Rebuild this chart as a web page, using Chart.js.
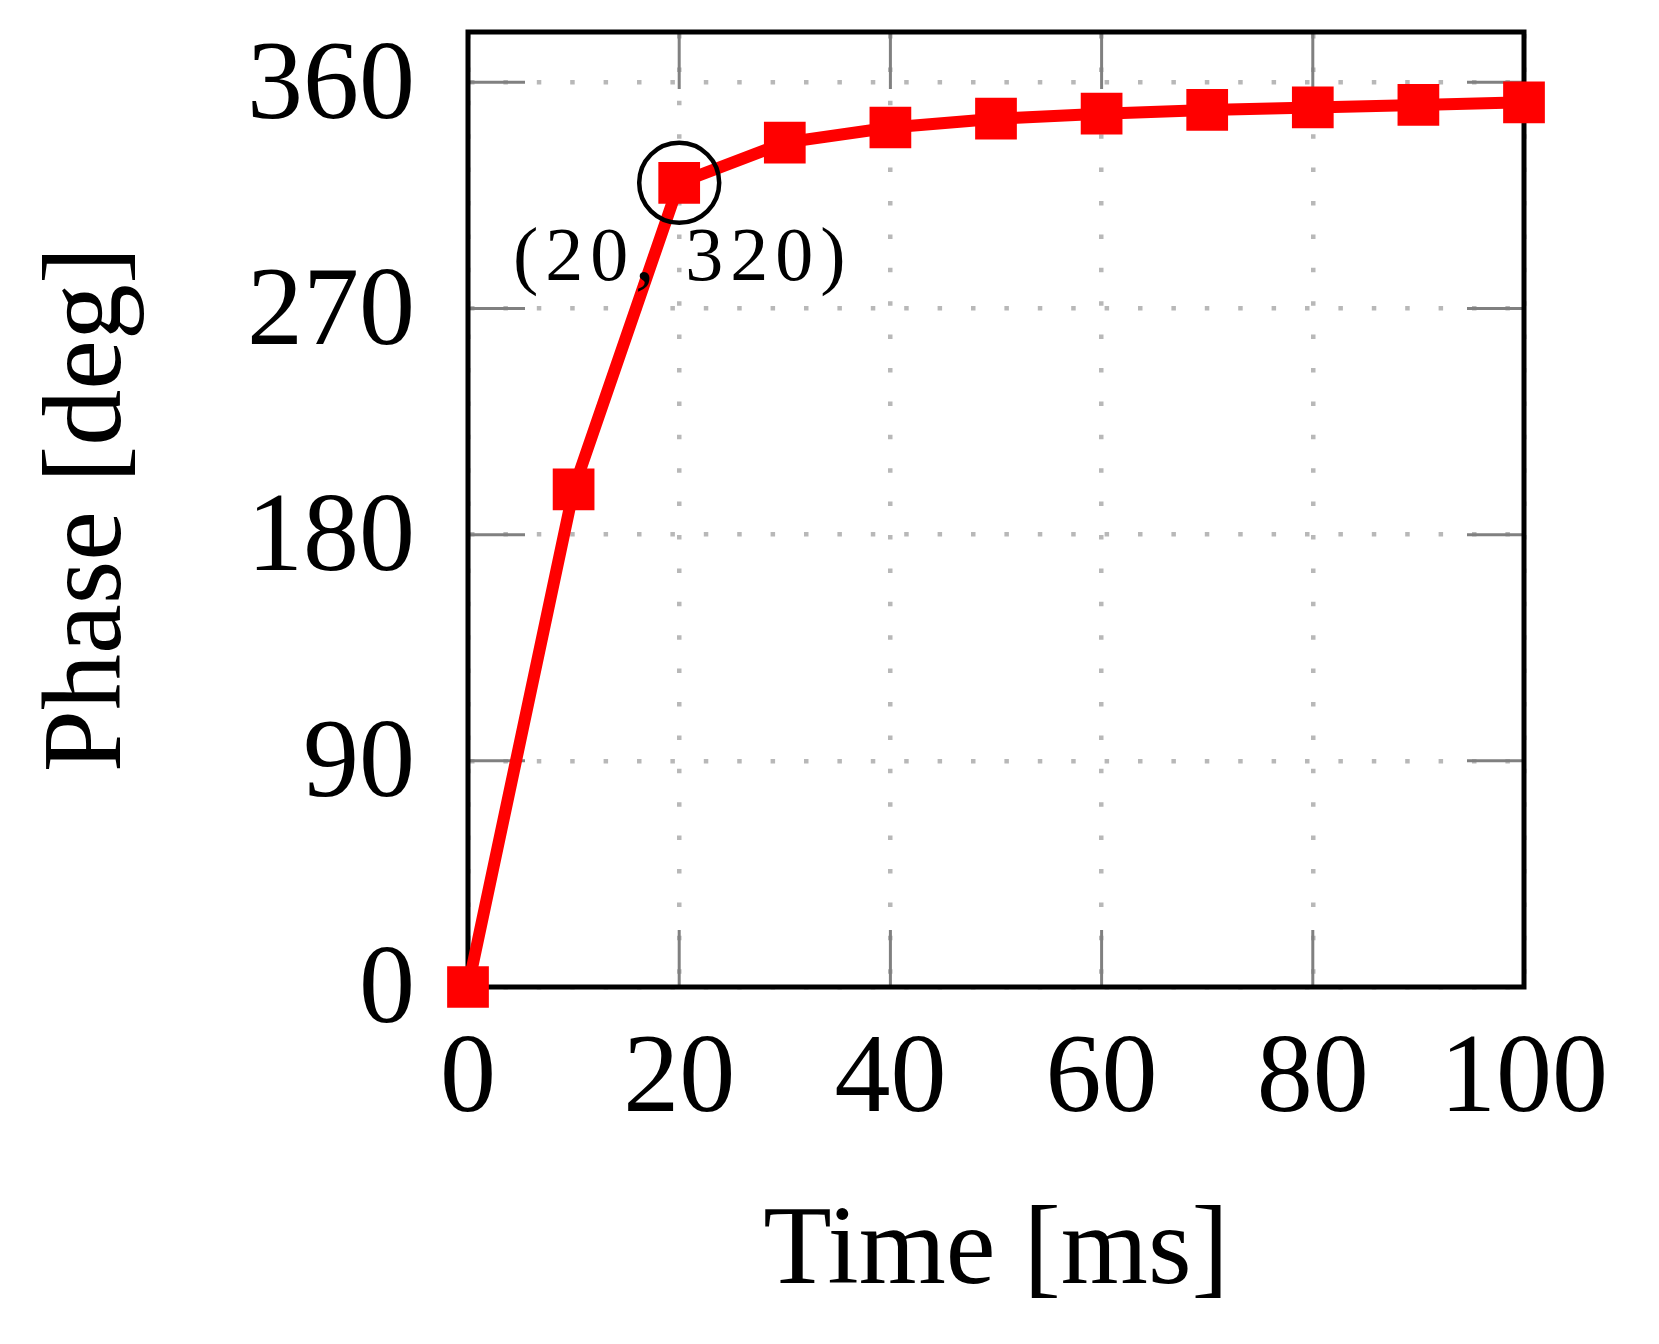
<!DOCTYPE html>
<html>
<head>
<meta charset="utf-8">
<title>Phase vs Time</title>
<script src="https://cdn.jsdelivr.net/npm/chart.js@4/dist/chart.umd.min.js"></script>
<style>
  html, body { margin: 0; padding: 0; background: #fff; }
  #wrap { width: 1659px; height: 1344px; position: relative; }
</style>
</head>
<body>
<div id="wrap"><canvas id="grafico"></canvas></div>
<script>
// datos
const tiempoMs = [0, 10, 20, 30, 40, 50, 60, 70, 80, 90, 100];
const faseDeg = [0, 198, 320, 336, 342, 345.5, 347.5, 349, 350, 351, 352];
const ticksX = [0, 20, 40, 60, 80, 100];
const ticksY = [0, 90, 180, 270, 360];
const puntoMarcado = { x: 20, y: 320, izq: '(20,', der: '320)' };

const fuente = "'Liberation Serif', 'DejaVu Serif', serif";

// marco negro y rayitas grises hacia adentro
const marcoPlugin = {
  id: 'marco',
  beforeDatasetsDraw(chart) {
    const { ctx, chartArea: a, scales } = chart;
    const largo = 57;
    ctx.save();
    ctx.strokeStyle = '#808080';
    ctx.lineWidth = 3;
    ctx.beginPath();
    ticksX.forEach(v => {
      const px = scales.x.getPixelForValue(v);
      ctx.moveTo(px, a.bottom); ctx.lineTo(px, a.bottom - largo);
      ctx.moveTo(px, a.top); ctx.lineTo(px, a.top + largo);
    });
    ticksY.forEach(v => {
      const py = scales.y.getPixelForValue(v);
      ctx.moveTo(a.left, py); ctx.lineTo(a.left + largo, py);
      ctx.moveTo(a.right, py); ctx.lineTo(a.right - largo, py);
    });
    ctx.stroke();
    ctx.strokeStyle = '#000';
    ctx.lineWidth = 5;
    ctx.strokeRect(a.left, a.top, a.right - a.left, a.bottom - a.top);
    ctx.restore();
  }
};

// circulo y etiqueta del punto (20, 320)
const notaPlugin = {
  id: 'nota',
  afterDatasetsDraw(chart) {
    const { ctx, scales } = chart;
    const px = scales.x.getPixelForValue(puntoMarcado.x);
    const py = scales.y.getPixelForValue(puntoMarcado.y);
    ctx.save();
    ctx.strokeStyle = '#000';
    ctx.lineWidth = 4.5;
    ctx.beginPath();
    ctx.arc(px, py, 40, 0, Math.PI * 2);
    ctx.stroke();
    ctx.fillStyle = '#000';
    ctx.font = '76px ' + fuente;
    ctx.letterSpacing = '7px';
    ctx.textBaseline = 'alphabetic';
    ctx.textAlign = 'right';
    ctx.fillText(puntoMarcado.izq, px - 18, py + 97);
    ctx.textAlign = 'left';
    ctx.fillText(puntoMarcado.der, px + 6, py + 97);
    ctx.restore();
  }
};

const ctx = document.getElementById('grafico');
new Chart(ctx, {
  type: 'line',
  data: {
    datasets: [{
      data: tiempoMs.map((t, i) => ({ x: t, y: faseDeg[i] })),
      borderColor: '#ff0000',
      backgroundColor: '#ff0000',
      borderWidth: 12,
      pointStyle: 'rect',
      pointRadius: 29.5,
      pointBorderWidth: 0,
      pointBackgroundColor: '#ff0000',
      tension: 0,
      clip: false
    }]
  },
  options: {
    responsive: true,
    maintainAspectRatio: false,
    animation: false,
    events: [],
    layout: { padding: { top: 32, right: 135, left: 0, bottom: 0 } },
    plugins: { legend: { display: false }, tooltip: { enabled: false } },
    scales: {
      x: {
        type: 'linear',
        min: 0,
        max: 100,
        afterBuildTicks: s => { s.ticks = ticksX.map(v => ({ value: v })); },
        afterFit: s => { s.height = 357; s.paddingLeft = 0; s.paddingRight = 0; },
        grid: { color: '#b8b8b8', lineWidth: 4.5, drawTicks: false },
        border: { display: false, dash: [4.5, 28.9], dashOffset: -2 },
        ticks: { color: '#000', padding: 27, maxRotation: 0, font: { family: fuente, size: 112 } },
        title: {
          display: true, text: 'Time [ms]', color: '#000',
          font: { family: fuente, size: 112 }, padding: { top: 0, bottom: 23 }
        }
      },
      y: {
        type: 'linear',
        min: 0,
        max: 380,
        afterBuildTicks: s => { s.ticks = ticksY.map(v => ({ value: v })); },
        afterFit: s => { s.width = 468; s.paddingTop = 0; s.paddingBottom = 0; },
        grid: { color: '#b8b8b8', lineWidth: 4.5, drawTicks: false },
        border: { display: false, dash: [4.5, 28.9], dashOffset: -2 },
        ticks: { color: '#000', padding: 53, labelOffset: 6, font: { family: fuente, size: 112 } },
        title: {
          display: true, text: 'Phase [deg]', color: '#000',
          font: { family: fuente, size: 112 }, padding: { top: 23, bottom: 0 }
        }
      }
    }
  },
  plugins: [marcoPlugin, notaPlugin]
});
</script>
</body>
</html>
